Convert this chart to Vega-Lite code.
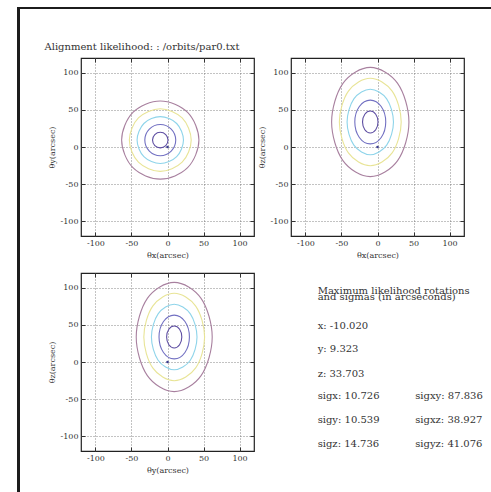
{
"$schema": "https://vega.github.io/schema/vega-lite/v6.json",
"padding": {"left": 17, "top": 7, "right": 0, "bottom": 0},
"background": "white",
"config": {
 "font": "DejaVu Serif",
 "view": {"stroke": "#222", "strokeWidth": 1.2},
 "axis": {"labelFont": "DejaVu Serif", "labelFontSize": 8, "labelColor": "#333", "titleFont": "DejaVu Serif", "titleFontSize": 8, "titleFontWeight": "normal", "titleColor": "#333", "grid": true, "gridColor": "#555", "gridDash": [1, 2], "gridWidth": 0.7, "tickColor": "#333", "tickSize": -4, "labelPadding": 7, "domain": false, "titlePadding": 4, "labelExpr": "'' + datum.value"}
},
"datasets": {
 "c": [
  {"p":1,"k":1,"o":1,"x":0.71,"y":9.32},{"p":1,"k":1,"o":2,"x":-2.44,"y":16.77},{"p":1,"k":1,"o":3,"x":-10.02,"y":19.86},{"p":1,"k":1,"o":4,"x":-17.60,"y":16.77},{"p":1,"k":1,"o":5,"x":-20.75,"y":9.32},{"p":1,"k":1,"o":6,"x":-17.60,"y":1.87},{"p":1,"k":1,"o":7,"x":-10.02,"y":-1.22},{"p":1,"k":1,"o":8,"x":-2.44,"y":1.87},
  {"p":1,"k":2,"o":1,"x":11.43,"y":9.32},{"p":1,"k":2,"o":2,"x":5.15,"y":24.22},{"p":1,"k":2,"o":3,"x":-10.02,"y":30.40},{"p":1,"k":2,"o":4,"x":-25.19,"y":24.22},{"p":1,"k":2,"o":5,"x":-31.47,"y":9.32},{"p":1,"k":2,"o":6,"x":-25.19,"y":-5.58},{"p":1,"k":2,"o":7,"x":-10.02,"y":-11.76},{"p":1,"k":2,"o":8,"x":5.15,"y":-5.58},
  {"p":1,"k":3,"o":1,"x":22.16,"y":9.32},{"p":1,"k":3,"o":2,"x":12.73,"y":31.68},{"p":1,"k":3,"o":3,"x":-10.02,"y":40.94},{"p":1,"k":3,"o":4,"x":-32.77,"y":31.68},{"p":1,"k":3,"o":5,"x":-42.20,"y":9.32},{"p":1,"k":3,"o":6,"x":-32.77,"y":-13.04},{"p":1,"k":3,"o":7,"x":-10.02,"y":-22.30},{"p":1,"k":3,"o":8,"x":12.73,"y":-13.04},
  {"p":1,"k":4,"o":1,"x":32.88,"y":9.32},{"p":1,"k":4,"o":2,"x":20.32,"y":39.13},{"p":1,"k":4,"o":3,"x":-10.02,"y":51.48},{"p":1,"k":4,"o":4,"x":-40.36,"y":39.13},{"p":1,"k":4,"o":5,"x":-52.92,"y":9.32},{"p":1,"k":4,"o":6,"x":-40.36,"y":-20.49},{"p":1,"k":4,"o":7,"x":-10.02,"y":-32.84},{"p":1,"k":4,"o":8,"x":20.32,"y":-20.49},
  {"p":1,"k":5,"o":1,"x":43.61,"y":9.32},{"p":1,"k":5,"o":2,"x":27.90,"y":46.58},{"p":1,"k":5,"o":3,"x":-10.02,"y":62.02},{"p":1,"k":5,"o":4,"x":-47.94,"y":46.58},{"p":1,"k":5,"o":5,"x":-63.65,"y":9.32},{"p":1,"k":5,"o":6,"x":-47.94,"y":-27.94},{"p":1,"k":5,"o":7,"x":-10.02,"y":-43.38},{"p":1,"k":5,"o":8,"x":27.90,"y":-27.94},

  {"p":2,"k":1,"o":1,"x":0.71,"y":33.70},{"p":2,"k":1,"o":2,"x":-2.44,"y":44.12},{"p":2,"k":1,"o":3,"x":-10.02,"y":48.44},{"p":2,"k":1,"o":4,"x":-17.60,"y":44.12},{"p":2,"k":1,"o":5,"x":-20.75,"y":33.70},{"p":2,"k":1,"o":6,"x":-17.60,"y":23.28},{"p":2,"k":1,"o":7,"x":-10.02,"y":18.96},{"p":2,"k":1,"o":8,"x":-2.44,"y":23.28},
  {"p":2,"k":2,"o":1,"x":11.43,"y":33.70},{"p":2,"k":2,"o":2,"x":5.15,"y":54.54},{"p":2,"k":2,"o":3,"x":-10.02,"y":63.17},{"p":2,"k":2,"o":4,"x":-25.19,"y":54.54},{"p":2,"k":2,"o":5,"x":-31.47,"y":33.70},{"p":2,"k":2,"o":6,"x":-25.19,"y":12.86},{"p":2,"k":2,"o":7,"x":-10.02,"y":4.23},{"p":2,"k":2,"o":8,"x":5.15,"y":12.86},
  {"p":2,"k":3,"o":1,"x":22.16,"y":33.70},{"p":2,"k":3,"o":2,"x":12.73,"y":64.96},{"p":2,"k":3,"o":3,"x":-10.02,"y":77.91},{"p":2,"k":3,"o":4,"x":-32.77,"y":64.96},{"p":2,"k":3,"o":5,"x":-42.20,"y":33.70},{"p":2,"k":3,"o":6,"x":-32.77,"y":2.44},{"p":2,"k":3,"o":7,"x":-10.02,"y":-10.51},{"p":2,"k":3,"o":8,"x":12.73,"y":2.44},
  {"p":2,"k":4,"o":1,"x":32.88,"y":33.70},{"p":2,"k":4,"o":2,"x":20.32,"y":75.38},{"p":2,"k":4,"o":3,"x":-10.02,"y":92.64},{"p":2,"k":4,"o":4,"x":-40.36,"y":75.38},{"p":2,"k":4,"o":5,"x":-52.92,"y":33.70},{"p":2,"k":4,"o":6,"x":-40.36,"y":-7.98},{"p":2,"k":4,"o":7,"x":-10.02,"y":-25.24},{"p":2,"k":4,"o":8,"x":20.32,"y":-7.98},
  {"p":2,"k":5,"o":1,"x":43.61,"y":33.70},{"p":2,"k":5,"o":2,"x":27.90,"y":85.80},{"p":2,"k":5,"o":3,"x":-10.02,"y":107.38},{"p":2,"k":5,"o":4,"x":-47.94,"y":85.80},{"p":2,"k":5,"o":5,"x":-63.65,"y":33.70},{"p":2,"k":5,"o":6,"x":-47.94,"y":-18.40},{"p":2,"k":5,"o":7,"x":-10.02,"y":-39.98},{"p":2,"k":5,"o":8,"x":27.90,"y":-18.40},

  {"p":3,"k":1,"o":1,"x":19.86,"y":33.70},{"p":3,"k":1,"o":2,"x":16.77,"y":44.12},{"p":3,"k":1,"o":3,"x":9.32,"y":48.44},{"p":3,"k":1,"o":4,"x":1.87,"y":44.12},{"p":3,"k":1,"o":5,"x":-1.22,"y":33.70},{"p":3,"k":1,"o":6,"x":1.87,"y":23.28},{"p":3,"k":1,"o":7,"x":9.32,"y":18.96},{"p":3,"k":1,"o":8,"x":16.77,"y":23.28},
  {"p":3,"k":2,"o":1,"x":30.40,"y":33.70},{"p":3,"k":2,"o":2,"x":24.22,"y":54.54},{"p":3,"k":2,"o":3,"x":9.32,"y":63.17},{"p":3,"k":2,"o":4,"x":-5.58,"y":54.54},{"p":3,"k":2,"o":5,"x":-11.76,"y":33.70},{"p":3,"k":2,"o":6,"x":-5.58,"y":12.86},{"p":3,"k":2,"o":7,"x":9.32,"y":4.23},{"p":3,"k":2,"o":8,"x":24.22,"y":12.86},
  {"p":3,"k":3,"o":1,"x":40.94,"y":33.70},{"p":3,"k":3,"o":2,"x":31.68,"y":64.96},{"p":3,"k":3,"o":3,"x":9.32,"y":77.91},{"p":3,"k":3,"o":4,"x":-13.04,"y":64.96},{"p":3,"k":3,"o":5,"x":-22.30,"y":33.70},{"p":3,"k":3,"o":6,"x":-13.04,"y":2.44},{"p":3,"k":3,"o":7,"x":9.32,"y":-10.51},{"p":3,"k":3,"o":8,"x":31.68,"y":2.44},
  {"p":3,"k":4,"o":1,"x":51.48,"y":33.70},{"p":3,"k":4,"o":2,"x":39.13,"y":75.38},{"p":3,"k":4,"o":3,"x":9.32,"y":92.64},{"p":3,"k":4,"o":4,"x":-20.49,"y":75.38},{"p":3,"k":4,"o":5,"x":-32.84,"y":33.70},{"p":3,"k":4,"o":6,"x":-20.49,"y":-7.98},{"p":3,"k":4,"o":7,"x":9.32,"y":-25.24},{"p":3,"k":4,"o":8,"x":39.13,"y":-7.98},
  {"p":3,"k":5,"o":1,"x":62.02,"y":33.70},{"p":3,"k":5,"o":2,"x":46.58,"y":85.80},{"p":3,"k":5,"o":3,"x":9.32,"y":107.38},{"p":3,"k":5,"o":4,"x":-27.94,"y":85.80},{"p":3,"k":5,"o":5,"x":-43.38,"y":33.70},{"p":3,"k":5,"o":6,"x":-27.94,"y":-18.40},{"p":3,"k":5,"o":7,"x":9.32,"y":-39.98},{"p":3,"k":5,"o":8,"x":46.58,"y":-18.40}
 ],
 "o": [{"x": 0, "y": 0}],
 "h": [{"s": "Alignment likelihood: : /orbits/par0.txt"}],
 "t": [
  {"fx":0.154,"fy":0.883,"s":"Maximum likelihood rotations"},
  {"fx":0.154,"fy":0.849,"s":"and sigmas (in arcseconds)"},
  {"fx":0.154,"fy":0.687,"s":"x: -10.020"},
  {"fx":0.154,"fy":0.559,"s":"y: 9.323"},
  {"fx":0.154,"fy":0.419,"s":"z: 33.703"},
  {"fx":0.154,"fy":0.296,"s":"sigx: 10.726"},
  {"fx":0.154,"fy":0.162,"s":"sigy: 10.539"},
  {"fx":0.154,"fy":0.028,"s":"sigz: 14.736"},
  {"fx":0.718,"fy":0.296,"s":"sigxy: 87.836"},
  {"fx":0.718,"fy":0.162,"s":"sigxz: 38.927"},
  {"fx":0.718,"fy":0.028,"s":"sigyz: 41.076"}
 ]
},
"spacing": 0,
"vconcat": [
 {"width": 474, "height": 2, "data": {"values": [{}]}, "mark": {"type": "point", "opacity": 0, "size": 0}, "view": {"fill": "#1c1c1c", "stroke": null}},
 {"spacing": 24,
  "hconcat": [
   {"width": 3, "height": 483, "data": {"values": [{}]}, "mark": {"type": "point", "opacity": 0, "size": 0}, "view": {"fill": "#1c1c1c", "stroke": null}},
   {"spacing": 4,
    "vconcat": [
     {"width": 1, "height": 40, "view": {"stroke": null}, "data": {"name": "h"},
      "mark": {"type": "text", "align": "left", "baseline": "alphabetic", "dx": -37, "dy": 21, "font": "DejaVu Serif", "fontSize": 10, "color": "#333"},
      "encoding": {"text": {"field": "s"}}},
     {"columns": 2,
      "align": "each",
      "spacing": {"row": 11, "column": 1},
      "concat": [
       {"width": 173, "height": 178,
        "layer": [
         {"data": {"name": "c"}, "transform": [{"filter": "datum.p == 1"}],
          "mark": {"type": "line", "interpolate": "cardinal-closed", "strokeWidth": 1.1},
          "encoding": {
           "x": {"field": "x", "type": "quantitative", "scale": {"domain": [-120, 120], "nice": false, "zero": false}, "axis": {"values": [-100, -50, 0, 50, 100], "title": "θx(arcsec)"}},
           "y": {"field": "y", "type": "quantitative", "scale": {"domain": [-120, 120], "nice": false, "zero": false}, "axis": {"values": [-100, -50, 0, 50, 100], "title": "θy(arcsec)"}},
           "color": {"field": "k", "type": "ordinal", "scale": {"domain": [1, 2, 3, 4, 5], "range": ["#5e4ea2", "#7270c2", "#8ed4ea", "#e8e496", "#a8809f"]}, "legend": null},
           "order": {"field": "o", "type": "quantitative"}}},
         {"data": {"name": "o"}, "mark": {"type": "point", "filled": true, "size": 6, "color": "#3a3a90", "opacity": 1},
          "encoding": {
           "x": {"field": "x", "type": "quantitative", "axis": {"orient": "top", "labels": false, "title": null, "grid": false, "values": [-100, -50, 0, 50, 100]}},
           "y": {"field": "y", "type": "quantitative", "axis": {"orient": "right", "labels": false, "title": null, "grid": false, "values": [-100, -50, 0, 50, 100]}}}}
        ],
        "resolve": {"axis": {"x": "independent", "y": "independent"}}},
       {"width": 173, "height": 178,
        "layer": [
         {"data": {"name": "c"}, "transform": [{"filter": "datum.p == 2"}],
          "mark": {"type": "line", "interpolate": "cardinal-closed", "strokeWidth": 1.1},
          "encoding": {
           "x": {"field": "x", "type": "quantitative", "scale": {"domain": [-120, 120], "nice": false, "zero": false}, "axis": {"values": [-100, -50, 0, 50, 100], "title": "θx(arcsec)"}},
           "y": {"field": "y", "type": "quantitative", "scale": {"domain": [-120, 120], "nice": false, "zero": false}, "axis": {"values": [-100, -50, 0, 50, 100], "title": "θz(arcsec)"}},
           "color": {"field": "k", "type": "ordinal", "scale": {"domain": [1, 2, 3, 4, 5], "range": ["#5e4ea2", "#7270c2", "#8ed4ea", "#e8e496", "#a8809f"]}, "legend": null},
           "order": {"field": "o", "type": "quantitative"}}},
         {"data": {"name": "o"}, "mark": {"type": "point", "filled": true, "size": 6, "color": "#3a3a90", "opacity": 1},
          "encoding": {
           "x": {"field": "x", "type": "quantitative", "axis": {"orient": "top", "labels": false, "title": null, "grid": false, "values": [-100, -50, 0, 50, 100]}},
           "y": {"field": "y", "type": "quantitative", "axis": {"orient": "right", "labels": false, "title": null, "grid": false, "values": [-100, -50, 0, 50, 100]}}}}
        ],
        "resolve": {"axis": {"x": "independent", "y": "independent"}}},
       {"width": 173, "height": 178,
        "layer": [
         {"data": {"name": "c"}, "transform": [{"filter": "datum.p == 3"}],
          "mark": {"type": "line", "interpolate": "cardinal-closed", "strokeWidth": 1.1},
          "encoding": {
           "x": {"field": "x", "type": "quantitative", "scale": {"domain": [-120, 120], "nice": false, "zero": false}, "axis": {"values": [-100, -50, 0, 50, 100], "title": "θy(arcsec)"}},
           "y": {"field": "y", "type": "quantitative", "scale": {"domain": [-120, 120], "nice": false, "zero": false}, "axis": {"values": [-100, -50, 0, 50, 100], "title": "θz(arcsec)"}},
           "color": {"field": "k", "type": "ordinal", "scale": {"domain": [1, 2, 3, 4, 5], "range": ["#5e4ea2", "#7270c2", "#8ed4ea", "#e8e496", "#a8809f"]}, "legend": null},
           "order": {"field": "o", "type": "quantitative"}}},
         {"data": {"name": "o"}, "mark": {"type": "point", "filled": true, "size": 6, "color": "#3a3a90", "opacity": 1},
          "encoding": {
           "x": {"field": "x", "type": "quantitative", "axis": {"orient": "top", "labels": false, "title": null, "grid": false, "values": [-100, -50, 0, 50, 100]}},
           "y": {"field": "y", "type": "quantitative", "axis": {"orient": "right", "labels": false, "title": null, "grid": false, "values": [-100, -50, 0, 50, 100]}}}}
        ],
        "resolve": {"axis": {"x": "independent", "y": "independent"}}},
       {"width": 173, "height": 179, "view": {"stroke": null},
        "data": {"name": "t"},
        "mark": {"type": "text", "align": "left", "baseline": "alphabetic", "font": "DejaVu Serif", "fontSize": 10, "color": "#333"},
        "encoding": {
         "x": {"field": "fx", "type": "quantitative", "scale": {"domain": [0, 1]}, "axis": null},
         "y": {"field": "fy", "type": "quantitative", "scale": {"domain": [0, 1]}, "axis": null},
         "text": {"field": "s"}}}
      ]}
    ]}
  ]}
]
}
